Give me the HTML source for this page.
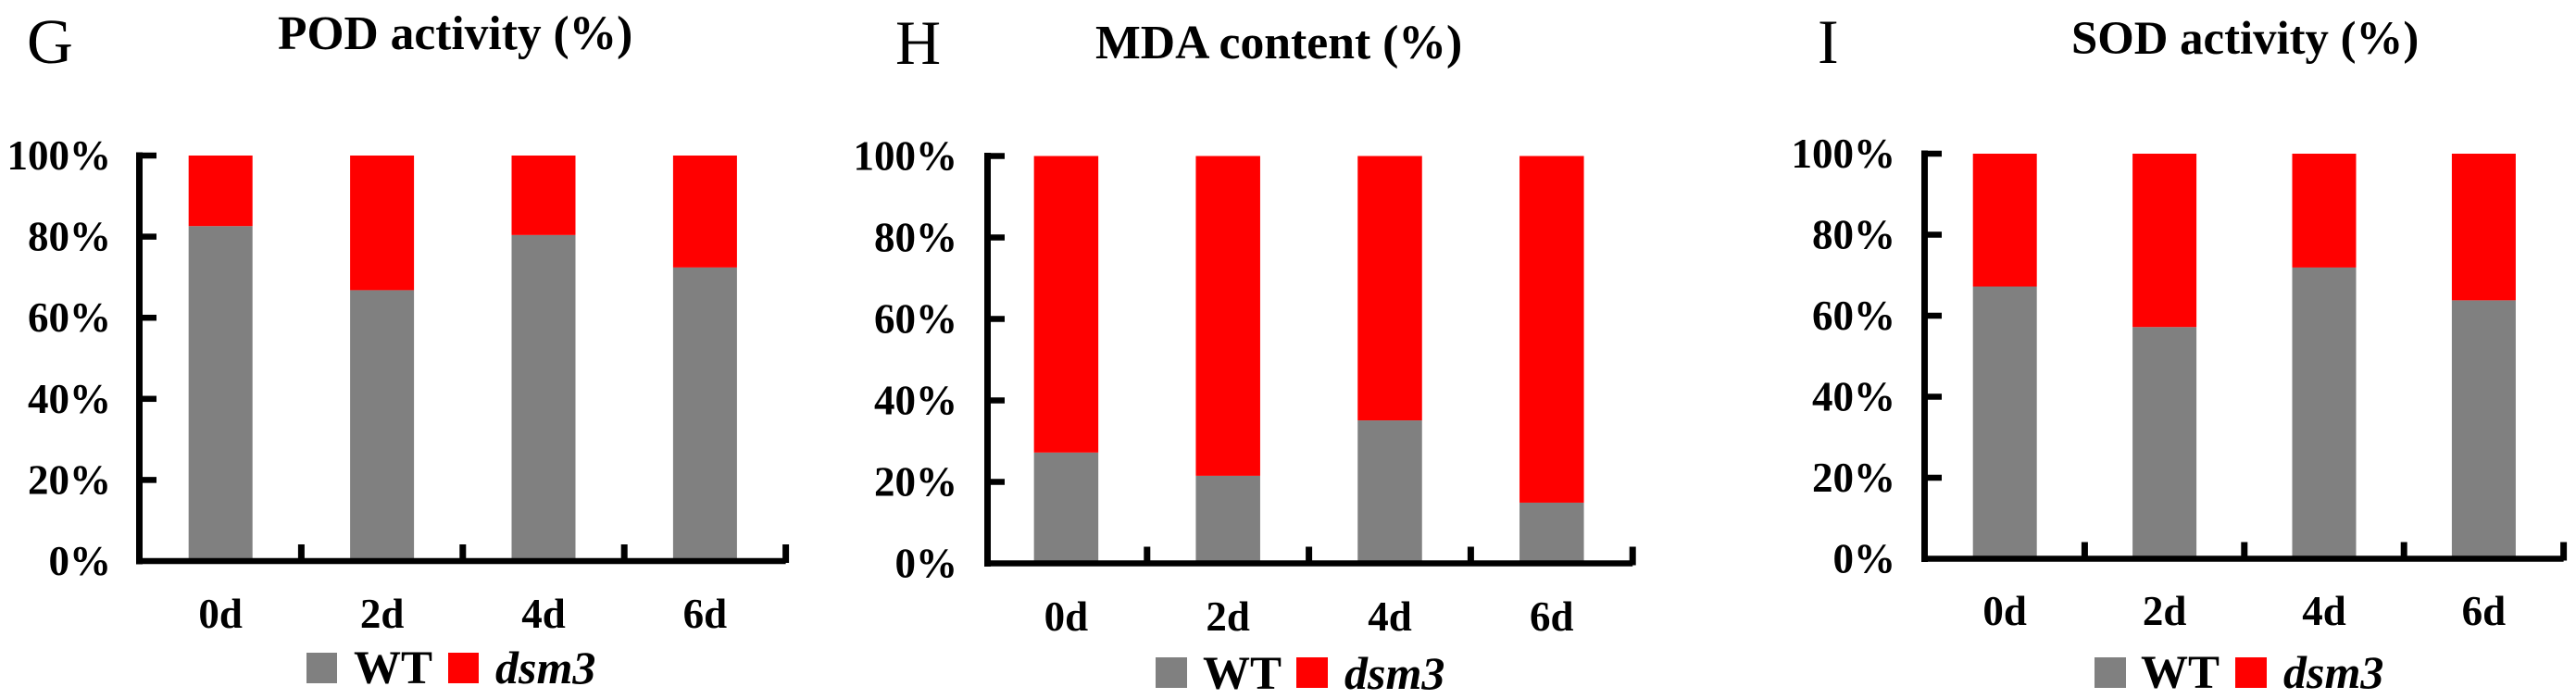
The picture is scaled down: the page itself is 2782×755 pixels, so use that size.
<!DOCTYPE html>
<html lang="en">
<head>
<meta charset="utf-8">
<title>POD, MDA and SOD stacked percentage charts</title>
<style>
  html, body { margin: 0; padding: 0; background: #fff; }
  body { width: 2782px; height: 755px; overflow: hidden; }
  svg { display: block; }
  text { font-family: "Liberation Serif", "Times New Roman", serif; fill: #000; }
  .bold { font-weight: bold; }
  .ital { font-weight: bold; font-style: italic; }
</style>
</head>
<body>
<svg id="figure" xmlns="http://www.w3.org/2000/svg" width="2782" height="755" viewBox="0 0 2782 755">
  <rect x="0" y="0" width="2782" height="755" fill="#ffffff"/>

  <g>
    <text x="29" y="68" font-size="69">G</text>
    <text class="bold" x="300" y="53" font-size="51.5">POD activity (%)</text>
  </g>
  <g>
    <text x="967" y="69" font-size="68">H</text>
    <text class="bold" x="1183" y="63" font-size="51.7">MDA content (%)</text>
  </g>
  <g>
    <text x="1963" y="68" font-size="68">I</text>
    <text class="bold" x="2237" y="58" font-size="50.8">SOD activity (%)</text>
  </g>

  <g>
    <rect x="331" y="705" width="33" height="33" fill="#808080"/>
    <text class="bold" x="382" y="738" font-size="51">WT</text>
    <rect x="484" y="705" width="33" height="33" fill="#ff0000"/>
    <text class="ital" x="535" y="738" font-size="50">dsm3</text>
  </g>
  <g>
    <rect x="1248" y="710" width="34" height="33" fill="#808080"/>
    <text class="bold" x="1299" y="744" font-size="51">WT</text>
    <rect x="1400" y="710" width="34" height="33" fill="#ff0000"/>
    <text class="ital" x="1452" y="744" font-size="50">dsm3</text>
  </g>
  <g>
    <rect x="2262" y="710" width="34" height="33" fill="#808080"/>
    <text class="bold" x="2312" y="743" font-size="51">WT</text>
    <rect x="2414" y="710" width="34" height="33" fill="#ff0000"/>
    <text class="ital" x="2466" y="743" font-size="50">dsm3</text>
  </g>
</svg>

<script>
// Chart data
const categories = ["0d", "2d", "4d", "6d"];
const yTickValues = [0, 20, 40, 60, 80, 100];
const yTickLabels = ["0%", "20%", "40%", "60%", "80%", "100%"];

const podWT   = [82.6, 66.8, 80.4, 72.4];
const podDsm3 = [17.4, 33.2, 19.6, 27.6];

const mdaWT   = [27.2, 21.5, 35.1, 14.9];
const mdaDsm3 = [72.8, 78.5, 64.9, 85.1];

const sodWT   = [67.2, 57.2, 71.9, 63.8];
const sodDsm3 = [32.8, 42.8, 28.1, 36.2];

const NS = "http://www.w3.org/2000/svg";
const figure = document.getElementById("figure");

function make(parent, tag, attrs, content) {
  const el = document.createElementNS(NS, tag);
  for (const k in attrs) el.setAttribute(k, attrs[k]);
  if (content !== undefined) el.textContent = content;
  parent.appendChild(el);
  return el;
}

function drawPanel(id, wt, dsm3, layout) {
  const xBand = function (i) { return layout.x0 + layout.step * i; };
  const xCenter = function (i) { return xBand(i) + layout.step / 2; };
  const y = function (v) { return layout.y0 - (layout.y0 - layout.y100) * v / 100; };

  const group = make(figure, "g", {});
  
  

  // Stacked bars
  categories.forEach(function (cat, i) {
    const left = xCenter(i) - layout.barWidth / 2;
    const wtBar = make(group, "rect", {
      x: left, y: y(wt[i]), width: layout.barWidth,
      height: y(0) - y(wt[i]), fill: "#808080"
    });
    
    

    const dsmBar = make(group, "rect", {
      x: left, y: y(wt[i] + dsm3[i]), width: layout.barWidth,
      height: y(wt[i]) - y(wt[i] + dsm3[i]), fill: "#ff0000"
    });
    
    

    const label = make(group, "text", {
      x: xCenter(i), y: layout.catBaseline, "font-size": 45,
      "font-weight": "bold", "text-anchor": "middle"
    }, cat);
    
    
  });

  // Y axis line
  const yAxis = make(group, "rect", {
    x: layout.axisX - 3.5, y: y(100) - 3.5, width: 7,
    height: y(0) - y(100) + 7, fill: "#000"
  });
  
  

  // X axis line
  const xAxis = make(group, "rect", {
    x: layout.axisX - 3.5, y: y(0) - 3.25,
    width: xBand(categories.length) - layout.axisX + 3.5, height: 6.5, fill: "#000"
  });
  
  

  // Y ticks and labels
  yTickValues.forEach(function (v, i) {
    if (v > 0) {
      const tick = make(group, "rect", {
        x: layout.axisX, y: y(v) - 3.25, width: 18.5, height: 6.5, fill: "#000"
      });
      
      
    }
    const label = make(group, "text", {
      x: layout.labelRight, y: y(v) + 15, "font-size": 45,
      "font-weight": "bold", "text-anchor": "end"
    }, yTickLabels[i]);
    
    
  });

  // X ticks at category boundaries
  for (let i = 1; i <= categories.length; i++) {
    const tick = make(group, "rect", {
      x: xBand(i) - 3.5, y: y(0) - 18, width: 7, height: 20, fill: "#000"
    });
    
    
  }
}

drawPanel("pod", podWT, podDsm3, {
  x0: 151, step: 174.4, barWidth: 69, y0: 606, y100: 168,
  axisX: 150.5, labelRight: 120, catBaseline: 678
});
drawPanel("mda", mdaWT, mdaDsm3, {
  x0: 1064, step: 174.8, barWidth: 69.5, y0: 608.5, y100: 168.5,
  axisX: 1066.5, labelRight: 1034, catBaseline: 681
});
drawPanel("sod", sodWT, sodDsm3, {
  x0: 2079, step: 172.4, barWidth: 69, y0: 603.5, y100: 166,
  axisX: 2078.5, labelRight: 2047, catBaseline: 675
});
</script>
</body>
</html>
